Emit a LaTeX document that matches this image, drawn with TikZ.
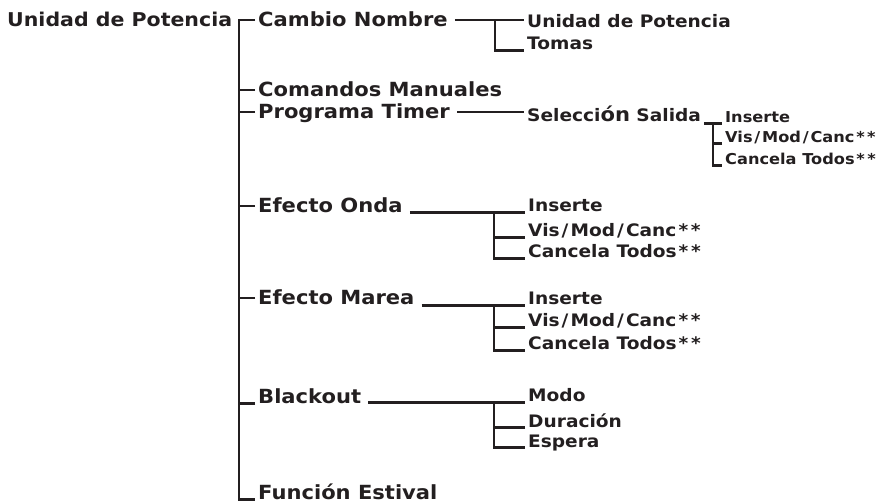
\documentclass[tikz,border=0pt]{standalone}
\usepackage{fontspec}
\setmainfont{DejaVu Sans}[FakeStretch=1.08]
\usetikzlibrary{positioning}
\definecolor{ink}{HTML}{231F20}
\newcommand\barra{\kern.12em/\kern.12em}
\newcommand\dast{\kern.12em*\kern.16em*}

\begin{document}
\begin{tikzpicture}[x=1pt,y=-1pt,line cap=butt,line join=miter,
	item/.style={inner xsep=3pt,inner ysep=0pt,text depth=0pt,anchor=base west,text=ink},
	lvla/.style={item,text height=14pt,font=\bfseries\fontsize{19.5}{20}\selectfont},
	lvlb/.style={item,text height=12.5pt,font=\bfseries\fontsize{17.2}{18}\selectfont},
	lvlc/.style={item,text height=11pt,font=\bfseries\fontsize{15}{16}\selectfont},
	link/.style={draw=ink,line width=2.8pt},
	gap/.style={link,shorten <=4pt}]
	\useasboundingbox (0,0) rectangle (878,502);
	\coordinate (trunk) at (239,0);
	\coordinate (forkn) at (495,0);
	\coordinate (forks) at (713,0);
	\coordinate (forko) at (494,0);
	% primer nivel
	\node[lvla,font=\bfseries\fontsize{19}{20}\selectfont] (raiz) at (4,27) {Unidad de Potencia};
	\node[lvla] (cambio) at (255,27) {Cambio Nombre};
	\node[lvla] (comandos) at (255,97) {Comandos Manuales};
	\node[lvla] (programa) at (255,119) {Programa Timer};
	\node[lvla] (onda) at (255,213) {Efecto Onda};
	\node[lvla] (marea) at (255,305) {Efecto Marea};
	\node[lvla] (blackout) at (255,403) {Blackout};
	\node[lvla] (funcion) at (255,499) {Función Estival};
	% segundo nivel
	\node[lvlb] (cnunidad) at (524,28) {Unidad de Potencia};
	\node[lvlb] (cntomas) at (524,50) {Tomas};
	\node[lvlb] (seleccion) at (524,122) {Selecci{\fontsize{19.5}{20}\selectfont ón} Salida};
	\node[lvlc] (slins) at (722,123) {Inserte};
	\node[lvlc] (slvis) at (722,143) {Vis\barra Mod\barra Canc\dast};
	\node[lvlc] (slcan) at (722,165) {Cancela Todos\dast};
	\node[lvlb] (onins) at (525,212) {Inserte};
	\node[lvlb] (onvis) at (525,237) {Vis\barra Mod\barra Canc\dast};
	\node[lvlb] (oncan) at (525,258) {Cancela Todos\dast};
	\node[lvlb] (mrins) at (525,305) {Inserte};
	\node[lvlb] (mrvis) at (525,327) {Vis\barra Mod\barra Canc\dast};
	\node[lvlb] (mrcan) at (525,350) {Cancela Todos\dast};
	\node[lvlb] (bkmod) at (525,402) {Modo};
	\node[lvlb] (bkdur) at (525,427) {Duración};
	\node[lvlb] (bkesp) at (525,447) {Espera};
	% tronco
	\draw[link] (cambio.west) -- (cambio.west -| trunk) -- (funcion.south west -| trunk) -- (funcion.south west);
	\foreach \n in {comandos,programa,onda,marea}
		\draw[link] (\n.west) -- (\n.west -| trunk);
	\draw[link] (blackout.south west) -- (blackout.south west -| trunk);
	% ramas
	\draw[gap] (cambio.east) -- (cambio.east -| cnunidad.west);
	\draw[link] (cambio.east -| forkn) |- (cntomas.south west);
	\draw[gap] (programa.east) -- (programa.east -| seleccion.west);
	\draw[link] (slins.south west -| seleccion.east) -- (slins.south west);
	\draw[link] (slins.south west -| forks) |- (slcan.south west);
	\draw[link] (slvis.south west) -- (slvis.south west -| forks);
	\draw[gap] (onins.south west -| onda.east) -- (onins.south west);
	\draw[gap] (mrins.south west -| marea.east) -- (mrins.south west);
	\draw[gap] (bkmod.south west -| blackout.east) -- (bkmod.south west);
	\foreach \a/\b/\c in {onins/onvis/oncan,mrins/mrvis/mrcan,bkmod/bkdur/bkesp}{
		\draw[link] (\a.south west -| forko) |- (\c.south west);
		\draw[link] (\b.south west) -- (\b.south west -| forko);
	}
\end{tikzpicture}
\end{document}
